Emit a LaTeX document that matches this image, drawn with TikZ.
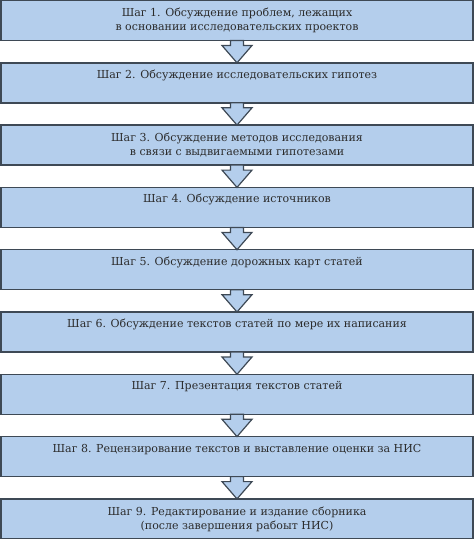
\documentclass[tikz,border=0pt]{standalone}
\usepackage{fontspec}
\setmainfont{DejaVu Serif}
\definecolor{boxfill}{HTML}{B4CEEC}
\definecolor{boxline}{HTML}{3E4955}
\definecolor{txt}{HTML}{2B2B2B}
\begin{document}
\begin{tikzpicture}[x=1pt,y=1pt]
\tikzstyle{stepbox} = [draw=boxline,fill=boxfill,line width=1.5,minimum width=472,minimum height=40,inner sep=0,outer sep=0,align=center,text=txt,font=\fontsize{11}{14}\selectfont];
\tikzstyle{oneline} = [text height=8,text depth=17];
\tikzstyle{arr} = [draw=boxline,fill=boxfill,line width=1.2,line join=miter,
  to path={(\tikztostart) ++(-6.5,0) -- ++(0,-5) -- ++(-8.5,0) -- (\tikztotarget) -- ++(15,17.3) -- ++(-8.5,0) -- ++(0,5) -- cycle}];
\useasboundingbox (0,0) rectangle (474,-539);
\node [stepbox] (s1) at (237,-20.5) {Шаг 1. Обсуждение проблем, лежащих\\в основании исследовательских проектов};
\node [stepbox,oneline] (s2) at (237,-82.8) {Шаг 2. Обсуждение исследовательских гипотез};
\node [stepbox] (s3) at (237,-145.1) {Шаг 3. Обсуждение методов исследования\\в связи с выдвигаемыми гипотезами};
\node [stepbox,oneline] (s4) at (237,-207.4) {Шаг 4. Обсуждение источников};
\node [stepbox,oneline] (s5) at (237,-269.7) {Шаг 5. Обсуждение дорожных карт статей};
\node [stepbox,oneline] (s6) at (237,-332.0) {Шаг 6. Обсуждение текстов статей по мере их написания};
\node [stepbox,oneline] (s7) at (237,-394.3) {Шаг 7. Презентация текстов статей};
\node [stepbox,oneline] (s8) at (237,-456.6) {Шаг 8. Рецензирование текстов и выставление оценки за НИС};
\node [stepbox] (s9) at (237,-518.9) {Шаг 9. Редактирование и издание сборника\\(после завершения рабоыт НИС)};
\draw [arr] (s1.south) to (s2.north);
\draw [arr] (s2.south) to (s3.north);
\draw [arr] (s3.south) to (s4.north);
\draw [arr] (s4.south) to (s5.north);
\draw [arr] (s5.south) to (s6.north);
\draw [arr] (s6.south) to (s7.north);
\draw [arr] (s7.south) to (s8.north);
\draw [arr] (s8.south) to (s9.north);
\end{tikzpicture}
\end{document}
